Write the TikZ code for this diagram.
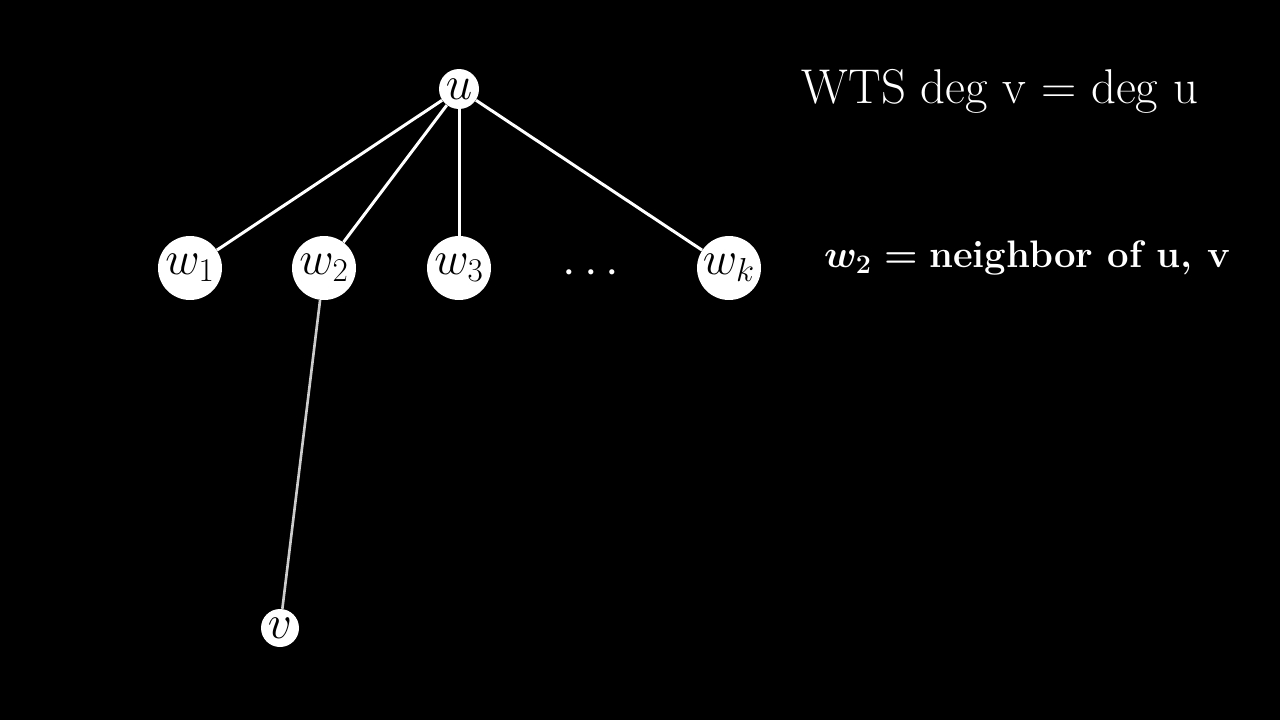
\RequirePackage{fix-cm}
\documentclass[tikz,border=0pt]{standalone}
\usepackage{amsmath}
\definecolor{EdgeClr}{rgb}{0.8,0.8,0.8}

\begin{document}
\begin{tikzpicture}[x=0.02cm,y=-0.02cm,
  vert/.style={circle,fill=white,inner sep=0pt,minimum size=#1,
    font=\fontsize{27}{30}\selectfont},
  edge/.style={white,line width=1.7pt},
  txt/.style={white,font=\fontsize{27.8}{32}\selectfont}]
\fill[black] (0,0) rectangle (1280,720);
\useasboundingbox (0,0) rectangle (1280,720);

% vertices
\node[vert=0.8cm] (u) at (459,89) {$u$};
\node[vert=1.28cm] (w1) at (190,268) {$w_1$};
\node[vert=1.28cm] (w2) at (324,268) {$w_2$};
\node[vert=1.28cm] (w3) at (459,268) {$w_3$};
\node[txt] (dots) at (595,274) {$\cdots$};
\node[vert=1.28cm] (wk) at (729,268) {$w_k$};
\node[vert=0.76cm] (v) at (280,628) {$v$};

% edges
\draw[edge] (u) -- (w1);
\draw[edge] (u) -- (w2);
\draw[edge] (u) -- (w3);
\draw[edge] (u) -- (wk);
\draw[edge,color=EdgeClr,line width=1.5pt] (w2) -- (v);

% text
\node[txt] (wts) at (1000,91) {WTS deg v $=$ deg u};
\node[txt,font=\fontsize{21.8}{26}\selectfont] (nbr) at (1027,258)
  {{\boldmath$w_2 =$} \textbf{neighbor of u, v}};

\end{tikzpicture}
\end{document}
